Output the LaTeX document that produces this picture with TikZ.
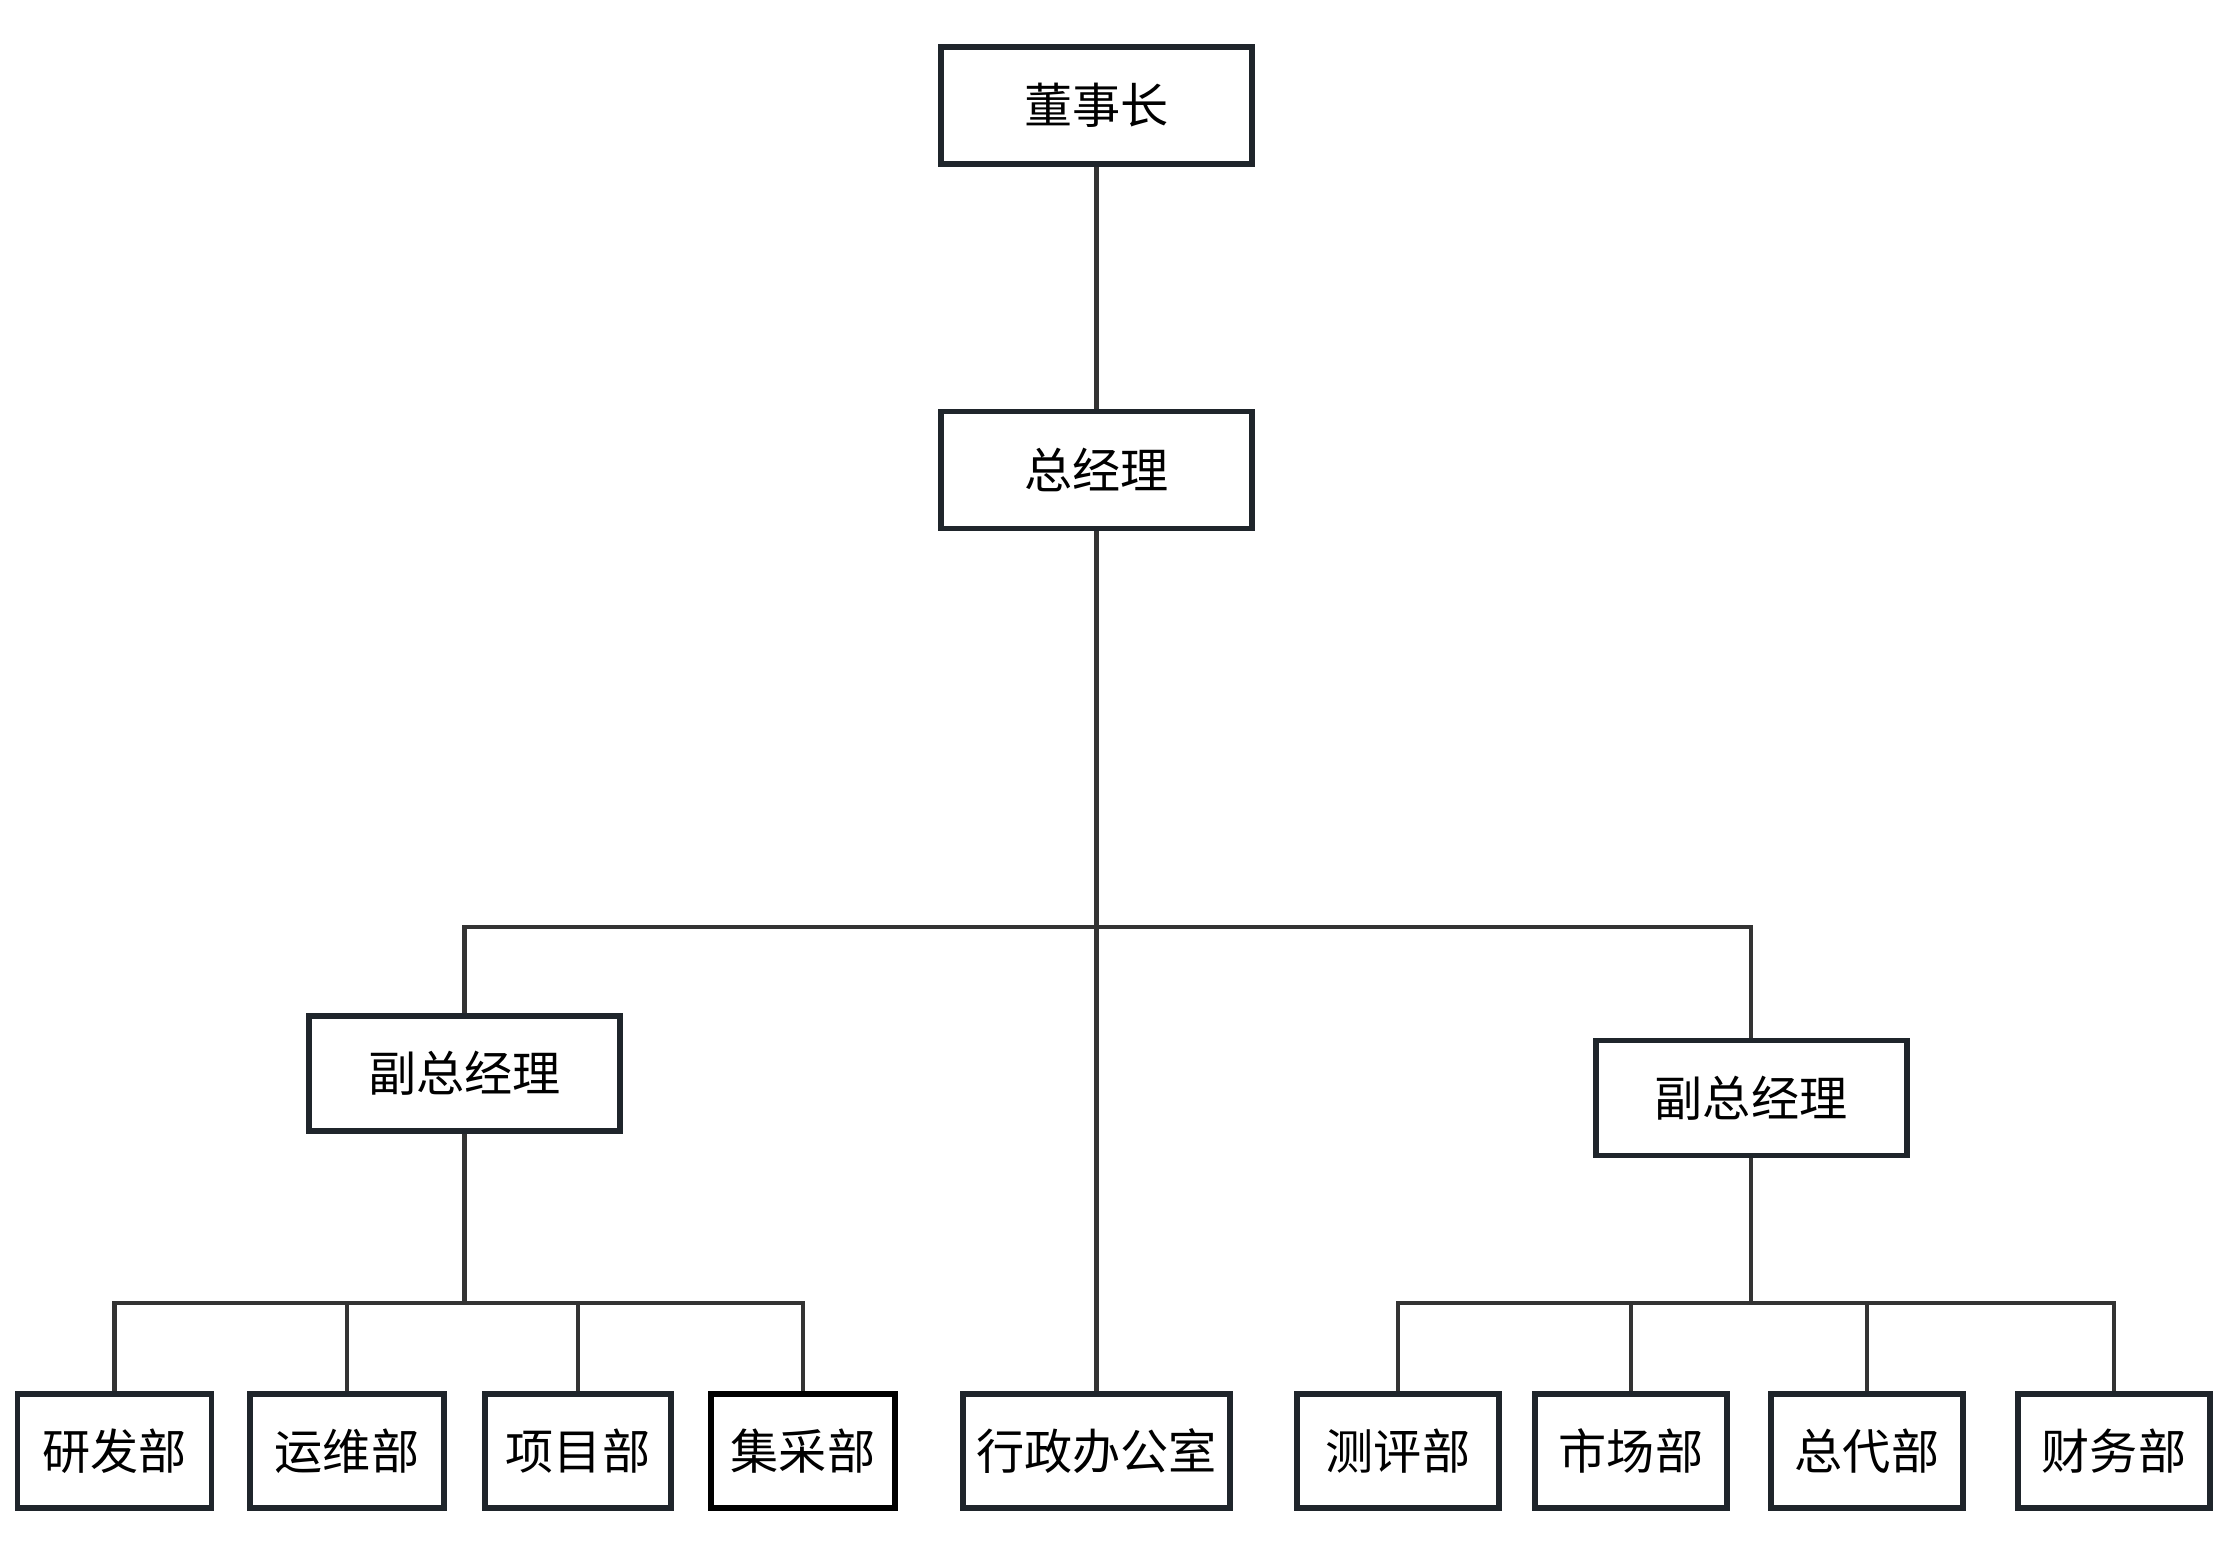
\documentclass[tikz,border=0pt]{standalone}
\usepackage{fontspec}
\setmainfont{Noto Sans CJK SC}
\begin{document}
\begin{tikzpicture}[x=1cm,y=1cm,
  box/.style={draw=boxc, line width=1.7pt, fill=white, inner sep=0pt,
    minimum height=1.15cm, font=\fontsize{13.7pt}{16pt}\selectfont, text=black},
  topbox/.style={box, minimum width=3.11cm, minimum height=1.17cm},
  vpbox/.style={box, minimum width=3.11cm},
  dept/.style={box, minimum width=1.94cm, minimum height=1.14cm},
  conn/.style={draw=linec, line width=1.15pt}
]
\definecolor{boxc}{HTML}{1F252B}
\definecolor{linec}{HTML}{333333}
\useasboundingbox (0,0) rectangle (22.26,-15.68);
\node[topbox] (ceo) at (10.965,-1.055) {董事长};
\node[topbox] (gm) at (10.965,-4.70) {总经理};
\node[vpbox] (vpL) at (4.645,-10.735) {副总经理};
\node[vpbox] (vpR) at (17.51,-10.98) {副总经理};
\node[dept] (yf) at (1.145,-14.51) {研发部};
\node[dept] (yw) at (3.47,-14.51) {运维部};
\node[dept, minimum width=1.86cm] (xm) at (5.78,-14.51) {项目部};
\node[dept, minimum width=1.84cm, draw=black] (jc) at (8.03,-14.51) {集采部};
\node[dept, minimum width=2.67cm] (xz) at (10.965,-14.51) {行政办公室};
\node[dept, minimum width=2.02cm] (cp) at (13.98,-14.51) {测评部};
\node[dept, minimum width=1.92cm] (sc) at (16.31,-14.51) {市场部};
\node[dept, minimum width=1.92cm] (zd) at (18.67,-14.51) {总代部};
\node[dept, minimum width=1.92cm] (cw) at (21.14,-14.51) {财务部};
\coordinate (busT) at (10.965,-9.27);
\coordinate (busL) at (4.645,-13.03);
\coordinate (busR) at (17.51,-13.03);
\begin{scope}[on background layer/.style={}]
\draw[conn] (ceo.south) -- (gm.north);
\draw[conn] (gm.south) -- (xz.north);
\draw[conn] (vpL.north) |- (busT) -| (vpR.north);
\draw[conn] (vpL.south) -- (busL);
\draw[conn] (yf.north) |- (busL) -| (jc.north);
\draw[conn] (yw.north) -- (yw.north |- busL);
\draw[conn] (xm.north) -- (xm.north |- busL);
\draw[conn] (vpR.south) -- (busR);
\draw[conn] (cp.north) |- (busR) -| (cw.north);
\draw[conn] (sc.north) -- (sc.north |- busR);
\draw[conn] (zd.north) -- (zd.north |- busR);
\end{scope}
\end{tikzpicture}
\end{document}
